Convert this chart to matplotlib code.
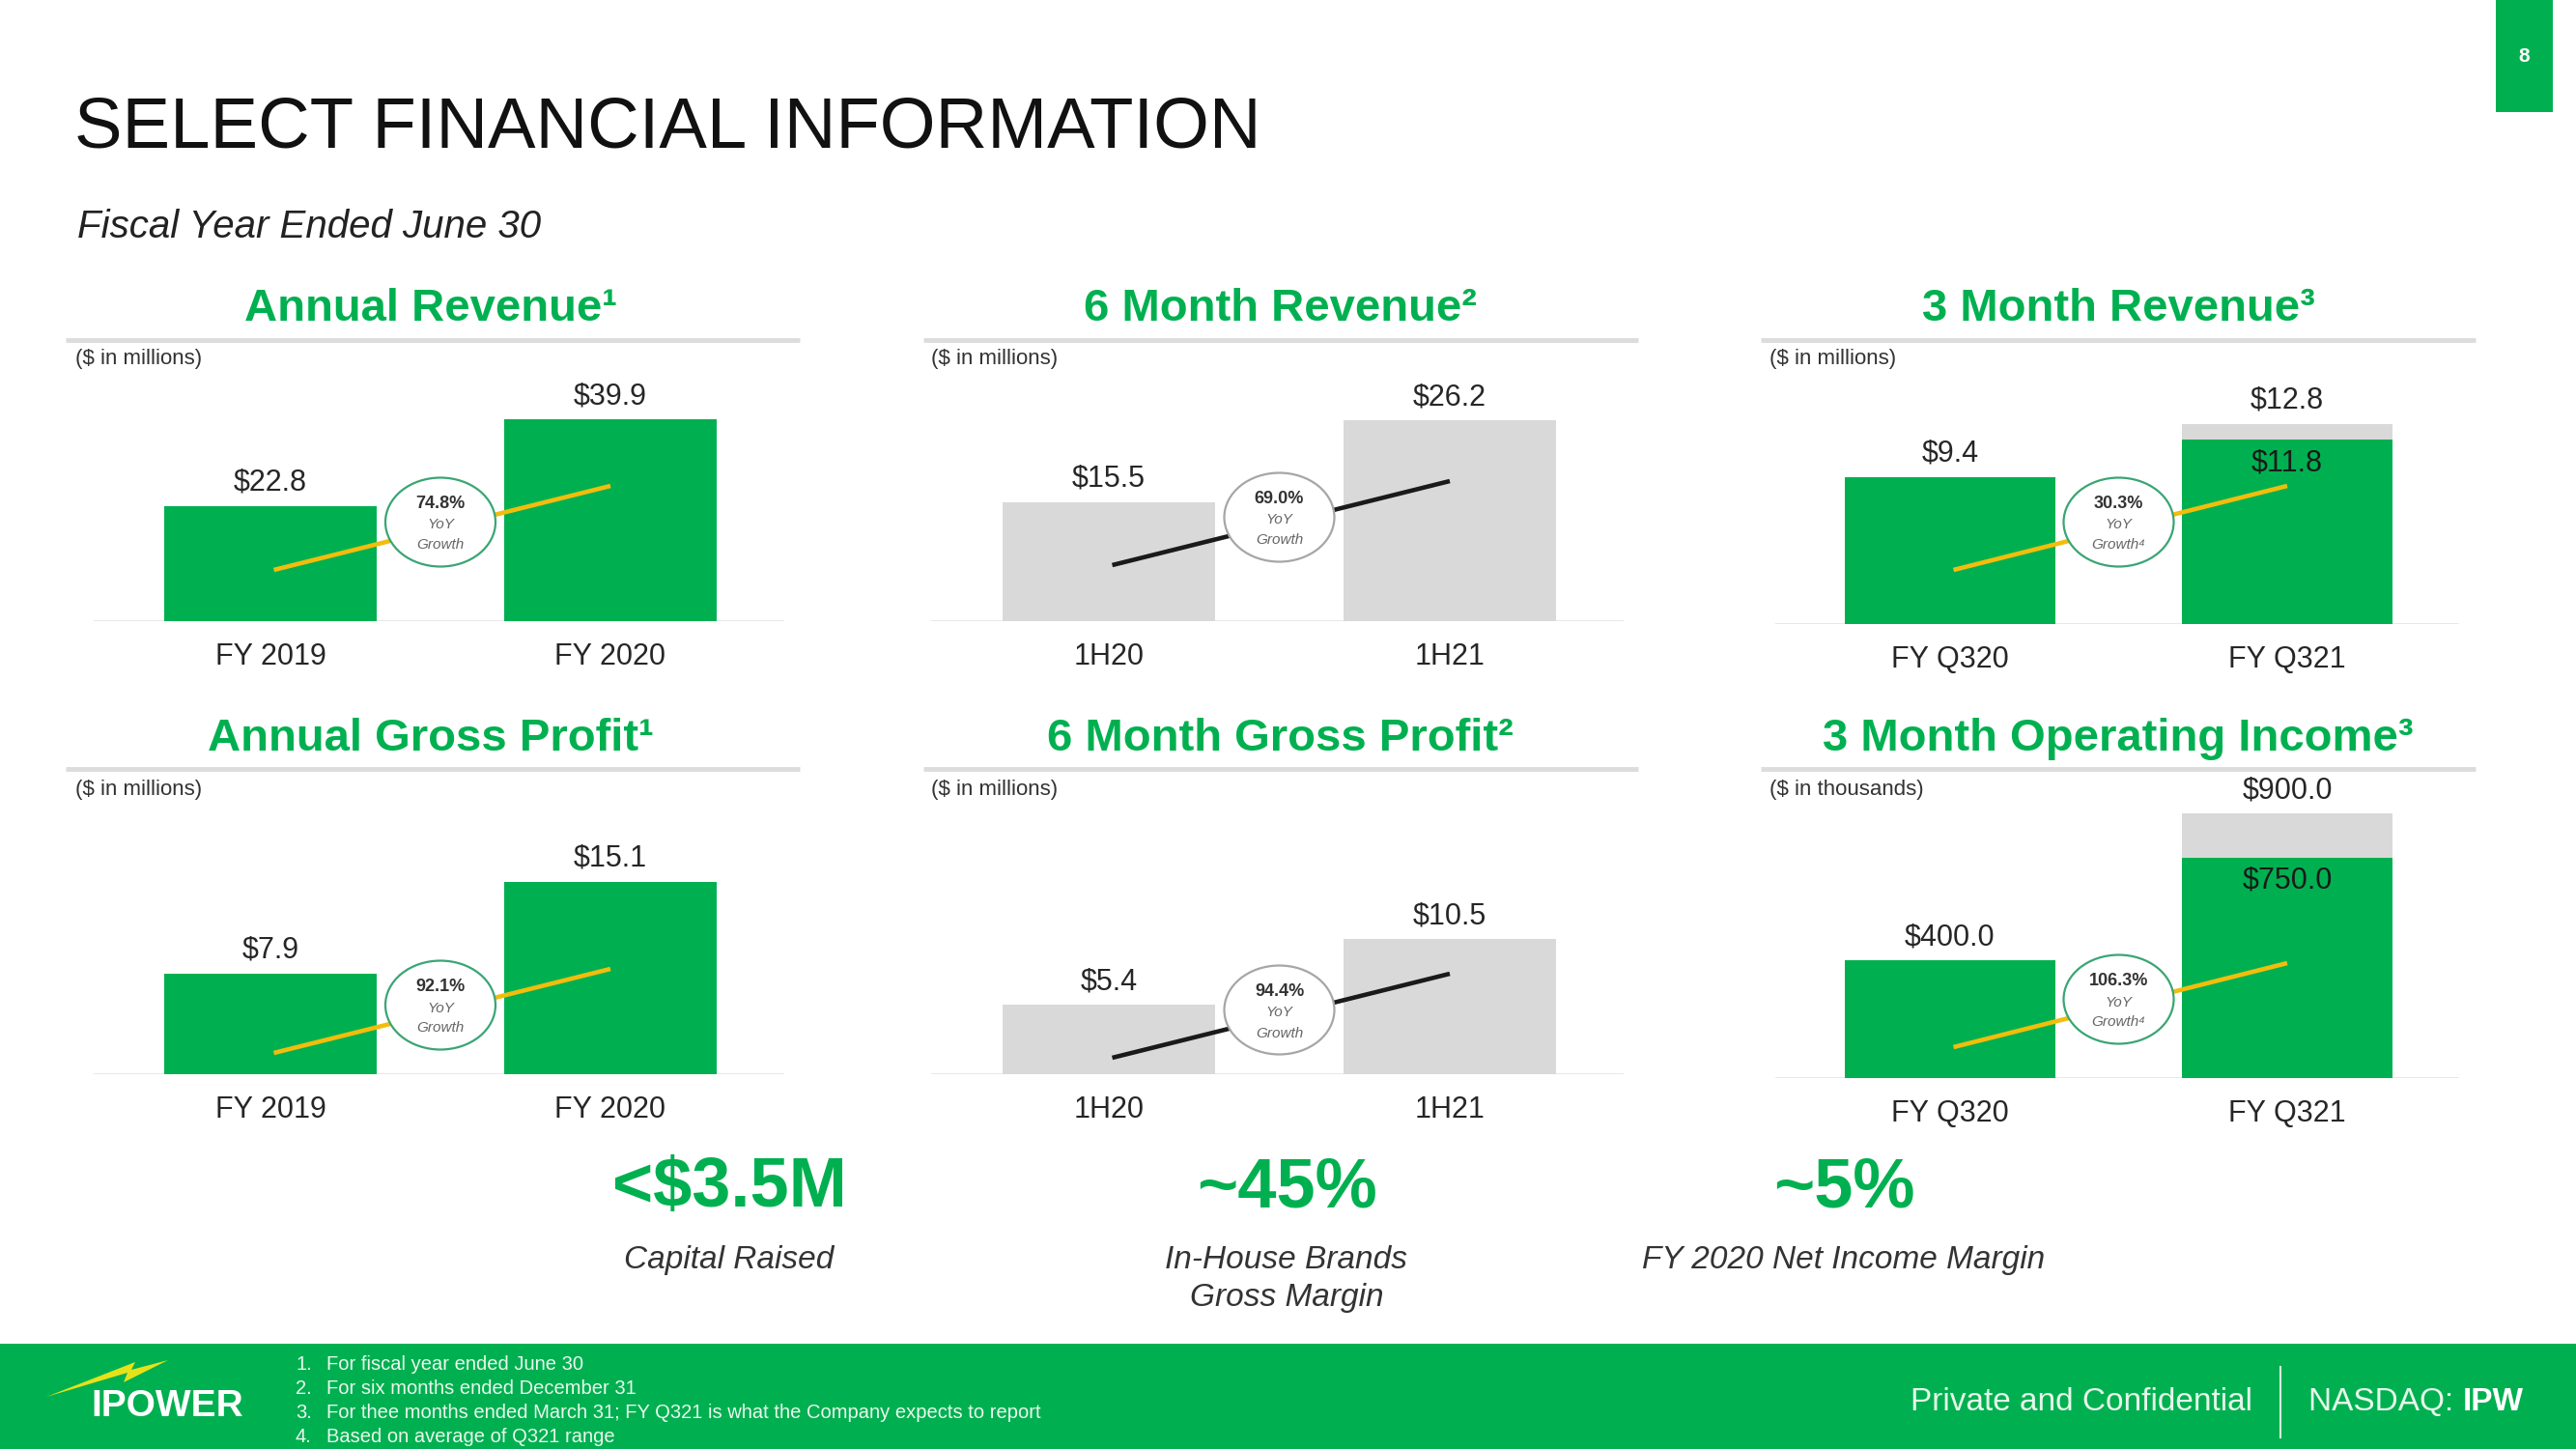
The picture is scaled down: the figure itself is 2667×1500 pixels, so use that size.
import matplotlib
matplotlib.use("Agg")
import matplotlib.pyplot as plt
from matplotlib.patches import Ellipse, Rectangle, Polygon

plt.rcParams['font.family'] = ['Liberation Sans', 'DejaVu Sans']

# ---- data ----
panel_titles = ["Annual Revenue\u00b9", "6 Month Revenue\u00b2", "3 Month Revenue\u00b3",
                "Annual Gross Profit\u00b9", "6 Month Gross Profit\u00b2",
                "3 Month Operating Income\u00b3"]
panel_units = ["($ in millions)"] * 5 + ["($ in thousands)"]
categories = [["FY 2019", "FY 2020"], ["1H20", "1H21"], ["FY Q320", "FY Q321"],
              ["FY 2019", "FY 2020"], ["1H20", "1H21"], ["FY Q320", "FY Q321"]]
values = [[22.8, 39.9], [15.5, 26.2], [9.4, 12.8],
          [7.9, 15.1], [5.4, 10.5], [400.0, 900.0]]
# FY Q321 is a range: low end shown in green inside the high-end bar
range_low = [None, None, 11.8, None, None, 750.0]
yoy_growth = ["74.8%", "69.0%", "30.3%", "92.1%", "94.4%", "106.3%"]
yoy_note = ["", "", "\u2074", "", "", "\u2074"]

kpi_values = ["<$3.5M", "~45%", "~5%"]
kpi_labels = ["Capital Raised", "In-House Brands\nGross Margin", "FY 2020 Net Income Margin"]

footnotes = ["For fiscal year ended June 30",
             "For six months ended December 31",
             "For thee months ended March 31; FY Q321 is what the Company expects to report",
             "Based on average of Q321 range"]

# ---- layout (pixels, y from top) ----
W, H = 2667, 1500
GREEN = "#00b050"
BAR_GRAY = "#d9d9d9"
TXT = "#262626"
col_c0 = [280, 1148, 2019]      # centre of first bar
col_step = [352, 353, 349]      # distance between bar centres
col_title_x = [446, 1325, 2193]
col_rule = [(68, 828), (956, 1696), (1823, 2563)]
col_unit_x = [78, 964, 1832]
row_title_y = [320, 765]
row_rule_y = [352, 796]
row_unit_y = [372, 818]
panel_base = [643, 643, 646, 1112, 1112, 1116]
panel_ymax = [57.3, 37.8, 18.55, 22.76, 22.58, 985.5]
panel_lift = [53, 58, 56, 22, 17, 32]
AX_H = 300
XL = (-0.52, 1.51)
BW = 0.625

fig = plt.figure(figsize=(W / 100, H / 100), dpi=100)
bg = fig.add_axes([0, 0, 1, 1])
bg.set_xlim(0, W)
bg.set_ylim(H, 0)
bg.axis('off')

# header
bg.text(77, 133, "SELECT FINANCIAL INFORMATION", fontsize=53.5, color="#111111",
        ha='left', va='center')
bg.text(80, 235, "Fiscal Year Ended June 30", fontsize=29, style='italic',
        color="#222222", ha='left', va='center')
bg.add_patch(Rectangle((2584, 0), 59, 116, color=GREEN, lw=0))
bg.text(2613, 58, "8", fontsize=15, color='white', fontweight='bold', ha='center', va='center')

# panel headers
for k in range(6):
    r, c = divmod(k, 3)
    bg.text(col_title_x[c], row_title_y[r], panel_titles[k], fontsize=34, fontweight='bold',
            color=GREEN, ha='center', va='center')
    bg.plot(col_rule[c], [row_rule_y[r]] * 2, color="#dcdcdc", lw=3.5, solid_capstyle='butt')
    bg.text(col_unit_x[c], row_unit_y[r], panel_units[k], fontsize=16, color="#333333",
            ha='left', va='center')

# bar panels
for k in range(6):
    r, c = divmod(k, 3)
    s = col_step[c]
    left = col_c0[c] + XL[0] * s
    width = (XL[1] - XL[0]) * s
    base = panel_base[k]
    ax = fig.add_axes([left / W, 1 - base / H, width / W, AX_H / H])
    ax.set_xlim(*XL)
    ax.set_ylim(0, panel_ymax[k])
    ax.axis('off')
    ax.patch.set_alpha(0)
    ppu = AX_H / panel_ymax[k]

    gray_panel = (c == 1)
    main_col = BAR_GRAY if gray_panel else GREEN
    v = values[k]
    colors = [main_col, BAR_GRAY if range_low[k] is not None else main_col]
    ax.axhline(0, color="#e6e6e6", lw=2, zorder=1)
    ax.bar([0, 1], v, width=BW, color=colors, zorder=2)
    if range_low[k] is not None:
        ax.bar(1, range_low[k], width=BW, color=GREEN, zorder=2.1)
        ax.annotate(f"${range_low[k]:.1f}", xy=(1, range_low[k]), xytext=(0, -24),
                    textcoords='offset pixels', ha='center', va='center',
                    fontsize=22, color="#1a1a1a", zorder=6)
    for i in range(2):
        ax.annotate(f"${v[i]:.1f}", xy=(i, v[i]), xytext=(0, 24), textcoords='offset pixels',
                    ha='center', va='center', fontsize=22, color=TXT)
        ax.annotate(categories[k][i], xy=(i, 0), xytext=(0, -37), textcoords='offset pixels',
                    ha='center', va='center', fontsize=22, color=TXT)

    # growth connector + badge
    y0 = panel_lift[k] / ppu
    y1 = (panel_lift[k] + 87) / ppu
    ax.plot([0.01, 1.0], [y0, y1], color="#1a1a1a" if gray_panel else "#f2bd0c",
            lw=3.3, solid_capstyle='butt', zorder=3)
    yc = (y0 + y1) / 2 + 6 / ppu
    ax.add_patch(Ellipse((0.5, yc), 114 / s, 92 / ppu, fc='white',
                         ec="#a6a6a6" if gray_panel else "#3aa574", lw=1.6, zorder=4))
    ax.annotate(yoy_growth[k], xy=(0.5, yc), xytext=(0, 19), textcoords='offset pixels',
                ha='center', va='center', fontsize=13, fontweight='bold', color="#333333",
                zorder=5)
    ax.annotate("YoY", xy=(0.5, yc), xytext=(0, -3), textcoords='offset pixels',
                ha='center', va='center', fontsize=11, style='italic', color="#666666",
                zorder=5)
    ax.annotate("Growth" + yoy_note[k], xy=(0.5, yc), xytext=(0, -24),
                textcoords='offset pixels', ha='center', va='center', fontsize=11,
                style='italic', color="#666666", zorder=5)

# KPI call-outs
kpi_x = [755, 1332, 1909]
for x, val, lab in zip(kpi_x, kpi_values, kpi_labels):
    bg.text(x, 1230, val, fontsize=52, fontweight='bold', color=GREEN, ha='center', va='center')
    bg.text(x, 1289, lab, fontsize=24, style='italic', color="#333333", ha='center', va='top',
            linespacing=1.35)

# footer band
bg.add_patch(Rectangle((0, 1391), W, 109, color=GREEN, lw=0))
bg.add_patch(Polygon([(48, 1446), (132, 1421), (128, 1431), (174, 1408), (136, 1418),
                      (140, 1410)], closed=True, color="#e6e21a", lw=0))
bg.text(173, 1456, "IPOWER", fontsize=28, fontweight='bold', color='white',
        ha='center', va='center', family=['Liberation Sans Narrow', 'Liberation Sans'])
for i, note in enumerate(footnotes):
    y = 1413 + i * 24.7
    bg.text(306, y, f"{i + 1}.", fontsize=14.5, color="#eaf8ee", ha='left', va='center')
    bg.text(338, y, note, fontsize=14.5, color="#eaf8ee", ha='left', va='center')
bg.text(2332, 1451, "Private and Confidential", fontsize=24, color="#e6f7ea",
        ha='right', va='center')
bg.plot([2361, 2361], [1415, 1488], color="#d6f2dd", lw=1.5)
t1 = bg.text(2390, 1451, "NASDAQ: ", fontsize=24, color="#e6f7ea", ha='left', va='center')
bg.annotate("IPW", xy=(1, 0.5), xycoords=t1, fontsize=24, fontweight='bold', color='white',
            ha='left', va='center')

fig.savefig("out.png", dpi=100)
